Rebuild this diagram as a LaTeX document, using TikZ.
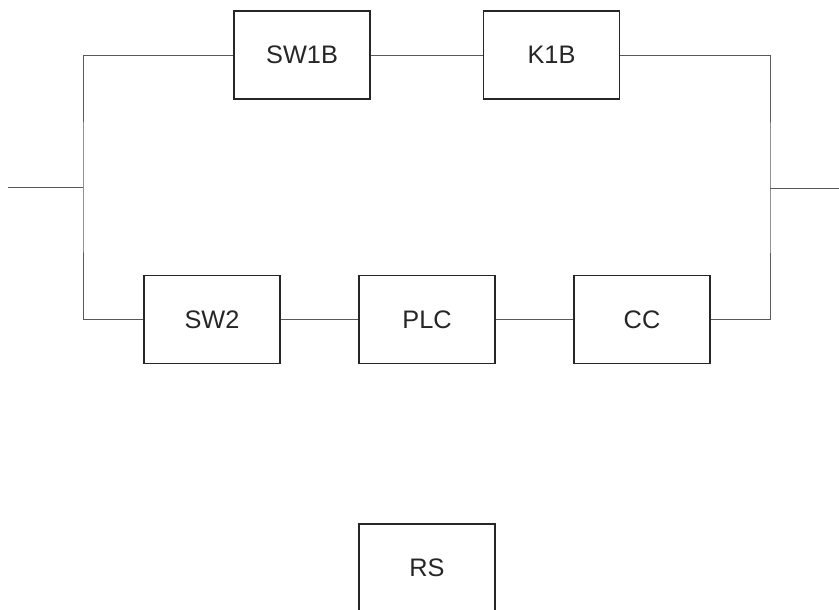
\documentclass[tikz,border=0pt]{standalone}
\usepackage{fontspec}
\setmainfont{Liberation Sans}
\begin{document}
\begin{tikzpicture}[x=0.75pt,y=-0.75pt,
  blk/.style={draw=black!85,line width=1.3pt,minimum width=102pt,minimum height=66pt,inner sep=0pt,font=\fontsize{19}{22}\selectfont,text=black!85},
  wire/.style={draw=black!65,line width=0.7pt}]
\useasboundingbox (0,0) rectangle (839,610);
\clip (0,0) rectangle (839,610);
\node[blk] (SW1B) at (302,55) {SW1B};
\node[blk] (K1B) at (551.5,55) {K1B};
\node[blk] (SW2) at (212,319.5) {SW2};
\node[blk] (PLC) at (427,319.5) {PLC};
\node[blk] (CC) at (642,319.5) {CC};
\node[blk] (RS) at (427,568) {RS};
\coordinate (L0) at (8,187);
\coordinate (Lj) at (83,187);
\coordinate (Rj) at (770,188);
\coordinate (R0) at (839,188);
\draw[wire] (L0) -- (Lj);
\draw[wire] (SW1B.west) -| (Lj) |- (SW2.west);
\draw[wire] (SW1B) -- (K1B);
\draw[wire] (K1B.east) -| (Rj) |- (CC.east);
\draw[wire] (Rj) -- (R0);
\draw[wire] (SW2) -- (PLC);
\draw[wire] (PLC) -- (CC);
\end{tikzpicture}
\end{document}
